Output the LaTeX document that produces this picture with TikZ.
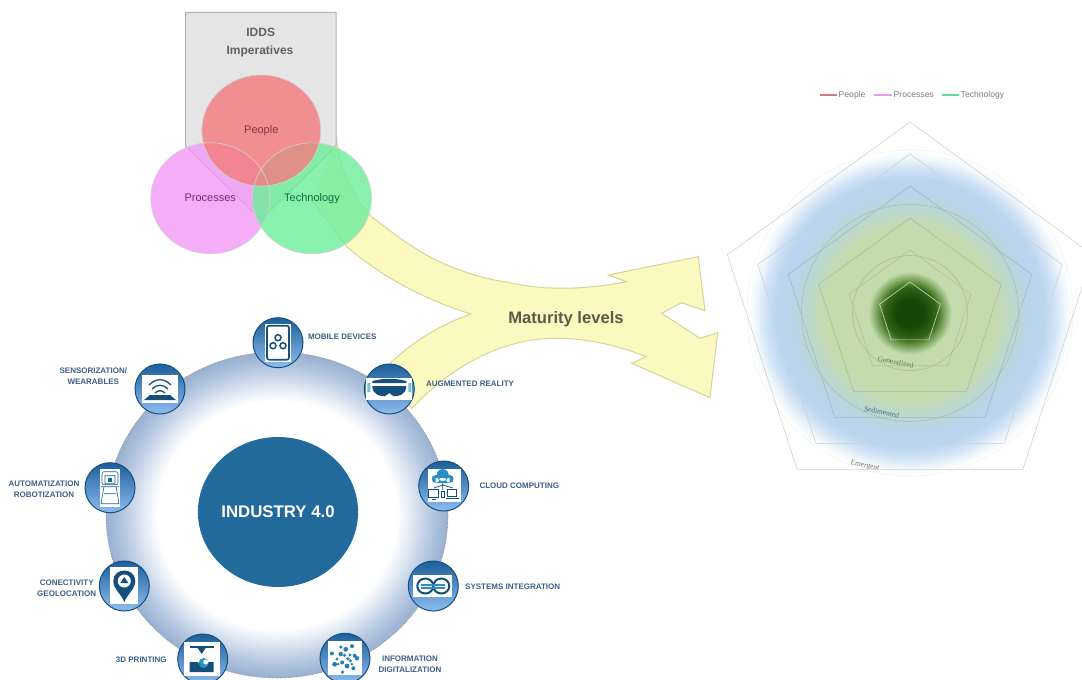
\documentclass[tikz,border=0pt]{standalone}
\usepackage{fontspec}
\setmainfont{Liberation Sans}
\newfontfamily\radarfont{Liberation Serif}
\usetikzlibrary{shapes.geometric}
\definecolor{navy}{HTML}{174F7C}
\definecolor{labelblue}{HTML}{3F5F86}
\definecolor{teal}{HTML}{2A8FC4}
\definecolor{arrowfill}{HTML}{FBF8C0}
\definecolor{arrowedge}{HTML}{D4D59A}
\definecolor{core}{HTML}{22699C}
\definecolor{HTMLproc}{HTML}{F29CF5}
\definecolor{HTMLtech}{HTML}{6FEE9C}
\definecolor{HTMLpeop}{HTML}{F47C80}
\definecolor{procText}{HTML}{6E2F70}
\definecolor{techText}{HTML}{0F6B45}
\definecolor{peopText}{HTML}{7A3A40}
\definecolor{matText}{HTML}{5A5A48}
\definecolor{badgeTop}{HTML}{1C5F9A}
\definecolor{badgeMid}{HTML}{4B8BD0}
\definecolor{badgeLow}{HTML}{8EBCF0}
\definecolor{legendRed}{HTML}{D9787A}
\definecolor{legendPink}{HTML}{E2A0E4}
\definecolor{legendGreen}{HTML}{62D996}
\definecolor{genText}{HTML}{5F7A50}
\definecolor{sedText}{HTML}{4A6A85}
\definecolor{emeText}{HTML}{777777}
\definecolor{polyAa}{HTML}{D0DCC0}
\definecolor{polyAb}{HTML}{AEC49A}
\definecolor{polyAc}{HTML}{A8C0A0}
\definecolor{polyAd}{HTML}{A5B8C4}
\definecolor{polyAe}{HTML}{CBD1D3}
\definecolor{polyAf}{HTML}{D2D2CE}
\definecolor{ringA}{HTML}{AEBAC2}
\definecolor{ringB}{HTML}{AEBE9A}
\definecolor{ringC}{HTML}{F3F3F0}
\pgfdeclareradialshading{radarshade}{\pgfpoint{0bp}{0bp}}{
 rgb(0bp)=(0.09,0.28,0.02);
 rgb(2.2bp)=(0.09,0.28,0.02);
 rgb(4bp)=(0.20,0.40,0.10);
 rgb(5bp)=(0.45,0.62,0.33);
 rgb(6.3bp)=(0.77,0.86,0.68);
 rgb(13bp)=(0.77,0.86,0.68);
 rgb(16.5bp)=(0.73,0.84,0.85);
 rgb(18.5bp)=(0.73,0.83,0.93);
 rgb(20.5bp)=(0.74,0.84,0.94);
 rgb(22bp)=(0.82,0.89,0.96);
 rgb(23.5bp)=(0.94,0.97,0.99);
 rgb(24.5bp)=(1,1,1);
 rgb(50bp)=(1,1,1)}
\pgfdeclareradialshading{ringshade}{\pgfpoint{0bp}{0bp}}{
 rgb(0bp)=(1,1,1);
 rgb(17.5bp)=(1,1,1);
 rgb(19.5bp)=(0.89,0.92,0.96);
 rgb(22.5bp)=(0.71,0.78,0.88);
 rgb(25bp)=(0.60,0.69,0.82);
 rgb(50bp)=(0.60,0.69,0.82)}
\tikzset{
 vennc/.style={ellipse,inner sep=0pt,minimum width=119pt,minimum height=111pt,fill opacity=.82,text opacity=1,font=\fontsize{11}{13}\selectfont,text height=8pt,text depth=2.5pt},
 badge/.style={circle,inner sep=0pt,minimum size=50pt,draw=navy,line width=1pt,top color=badgeTop,middle color=badgeMid,bottom color=badgeLow},
 toplabel/.style={font=\bfseries\fontsize{8}{11}\selectfont,text=labelblue,align=center,inner sep=0pt},
 legendlabel/.style={font=\fontsize{8.6}{10}\selectfont,text=gray,inner sep=0pt,anchor=west,text height=6.5pt,text depth=2pt},
 radarlabel/.style={font=\radarfont\fontsize{7.5}{9}\selectfont,inner sep=0pt},
 inkline/.style={draw=navy,line width=1.3pt}
}
\newcommand{\arrowpath}{(336.5,137) .. controls (338,165) and (352,197) .. (371.7,216.7)
 .. controls (395,235) and (415,250) .. (440,262) .. controls (465,273) and (485,279) .. (506.7,282)
 .. controls (525,286) and (540,288) .. (553,288) .. controls (580,289) and (605,286) .. (626.7,281.7)
 -- (608.3,275) -- (698.3,256.7) -- (705,310.7)
 -- (681.7,302.7) -- (661.7,313.3) -- (700,338.3) -- (717.7,332.7) -- (710,397.7) -- (631.7,363.3) -- (646,356.7)
 .. controls (618,345) and (585,338.3) .. (556.7,338.3) .. controls (500,338) and (450,368) .. (411.7,408.3)
 -- (395,390) -- (390,363.3) .. controls (415,340) and (440,325) .. (470.7,314)
 .. controls (420,298) and (380,275) .. (346.7,246.7) -- (312,200)}
\newcommand{\penta}[1]{(-90:#1) -- (-18:#1) -- (54:#1) -- (126:#1) -- (198:#1) -- cycle}
\begin{document}
\begin{tikzpicture}[x=1pt,y=-1pt]
\useasboundingbox (0,0) rectangle (1082,680);
\fill[white] (0,0) rectangle (1082,680);
% legend
\coordinate (k1a) at (820,95); \coordinate (k1b) at (837,95);
\coordinate (k2a) at (874,95); \coordinate (k2b) at (892,95);
\coordinate (k3a) at (942,95); \coordinate (k3b) at (959,95);
\draw[draw=legendRed,line width=1.2pt] (k1a) -- (k1b);
\draw[draw=legendPink,line width=1.2pt] (k2a) -- (k2b);
\draw[draw=legendGreen,line width=1.2pt] (k3a) -- (k3b);
\node[legendlabel] (t1) at (838.5,95) {People};
\node[legendlabel] (t2) at (893.5,95) {Processes};
\node[legendlabel] (t3) at (960.5,95) {Technology};
% yellow arrow
\fill[arrowfill] \arrowpath -- cycle;
\draw[arrowedge,line width=1pt] \arrowpath;
% imperatives box
\draw[draw=black!30,line width=1pt,fill=black!11,fill opacity=.9] (185.7,12.3) -- (336,12.3) -- (336,146) -- (261,220) -- (185.7,146) -- cycle;
\node[font=\bfseries\fontsize{12}{14}\selectfont,text=black!62,inner sep=0pt] (idds) at (260.7,32.7) {IDDS};
\node[font=\bfseries\fontsize{12}{14}\selectfont,text=black!62,inner sep=0pt] (imper) at (260,51.7) {Imperatives};
% venn
\node[vennc,fill=HTMLproc,text=procText] (proc) at (210.3,198.3) {Processes};
\node[vennc,fill=HTMLtech,text=techText] (tech) at (312,198.3) {Technology};
\node[vennc,fill=HTMLpeop,text=peopText] (peop) at (261.3,130.5) {People};
\draw[black!18,line width=.6pt] (proc.center) ellipse (59.5 and 55.5);
\draw[black!18,line width=.6pt] (tech.center) ellipse (59.5 and 55.5);
\draw[black!18,line width=.6pt] (peop.center) ellipse (59.5 and 55.5);
\node[font=\bfseries\fontsize{16.6}{19}\selectfont,text=matText,inner sep=0pt] (mat) at (566,319) {Maturity levels};
% radar
\coordinate (rc) at (910,313);
\coordinate (pc) at (910,314);
\shade[shading=radarshade] (rc) circle[radius=165];
\begin{scope}[shift={(rc)}]
 \draw[draw=ringC,line width=.6pt] (0,0) circle[radius=163];
 \draw[draw=ringA,line width=.6pt] (0,0) circle[radius=108.5];
 \draw[draw=ringB,line width=.6pt] (0,0) circle[radius=57.5];
\end{scope}
\begin{scope}[shift={(pc)}]
 \draw[draw=polyAa,line width=.6pt] \penta{32};
 \draw[draw=polyAb,line width=.6pt] \penta{64};
 \draw[draw=polyAc,line width=.6pt] \penta{96};
 \draw[draw=polyAd,line width=.6pt] \penta{128};
 \draw[draw=polyAe,line width=.6pt] \penta{160};
 \draw[draw=polyAf,line width=.6pt] \penta{192};
\end{scope}
\node[radarlabel,text=genText,rotate=-10] (lgen) at (895.7,362) {Generalized};
\node[radarlabel,text=sedText,rotate=-11] (lsed) at (881.7,412) {Sedimented};
\node[radarlabel,text=emeText,rotate=-11] (leme) at (865,466) {Emergent};
% ring
\node[ellipse,inner sep=0pt,minimum width=342pt,minimum height=326pt,shading=ringshade,draw=black!45,densely dotted,line width=.6pt] (ring) at (277,515) {};
\node[ellipse,inner sep=0pt,minimum width=160pt,minimum height=150pt,fill=core,text=white,font=\bfseries\fontsize{16.8}{19}\selectfont] (coren) at (278,512) {INDUSTRY 4.0};
% badges
\node[badge] (bmob) at (278,342.7) {};
\node[badge] (bsen) at (160,389) {};
\node[badge] (baut) at (110,487.7) {};
\node[badge] (bcon) at (124.3,586) {};
\node[badge] (bpri) at (202.7,659) {};
\node[badge] (binf) at (345,658.3) {};
\node[badge] (bsys) at (433.3,586) {};
\node[badge] (bclo) at (443.7,486) {};
\node[badge] (baug) at (389.3,389) {};
% mobile icon
\begin{scope}[shift={(bmob)}]
 \fill[white] (-13,-19) rectangle (13,19);
 \draw[draw=navy,line width=1.6pt,rounded corners=2pt] (-11,-17) rectangle (11,17);
 \foreach \p in {(0,-5),(-5,3),(5,3)} \draw[draw=navy,line width=1.5pt] \p circle[radius=3];
\end{scope}
% sensor icon
\begin{scope}[shift={(bsen)}]
 \fill[white] (-18,-14) rectangle (18,14);
 \draw[inkline] (-11,-4) .. controls (-4,-11) and (4,-11) .. (11,-4);
 \draw[inkline] (-8,0) .. controls (-3,-5) and (3,-5) .. (8,0);
 \draw[inkline] (-5,4) .. controls (-2,1) and (2,1) .. (5,4);
 \fill[navy] (-10,6) -- (10,6) -- (16,11) -- (-16,11) -- cycle;
\end{scope}
% robot icon
\begin{scope}[shift={(baut)}]
 \fill[white] (-10,-19) rectangle (10,19);
 \draw[draw=teal!70!black,line width=.6pt,rounded corners=2pt] (-8,-16) rectangle (8,-3);
 \draw[draw=teal!70!black,line width=.6pt] (-5,-12) rectangle (5,-4) (-9,-1) -- (9,-1) (-6,-1) -- (-9,16) -- (9,16) -- (6,-1) (-6,6) -- (6,6);
 \fill[teal!70!black] (-2,-10) rectangle (2,-6);
\end{scope}
% pin icon
\begin{scope}[shift={(bcon)}]
 \fill[white] (-14,-19) rectangle (14,18);
 \fill[navy] (0,16) .. controls (-3,8) and (-11,3) .. (-11,-5) .. controls (-11,-19) and (11,-19) .. (11,-5) .. controls (11,3) and (3,8) .. (0,16) -- cycle;
 \fill[white] (0,-5) circle[radius=6.5];
 \fill[navy] (0,-9) -- (4,-3) -- (-4,-3) -- cycle;
\end{scope}
% printer icon
\begin{scope}[shift={(bpri)}]
 \fill[white] (-19,-17) rectangle (17,17);
 \fill[navy] (-13,-13) rectangle (11,-11);
 \fill[navy] (-5,-11) -- (3,-11) -- (-1,-5) -- cycle;
 \fill[navy] (-13,3) -- (-5,3) -- (-2,6) -- (4,6) -- (6,3) -- (11,3) -- (11,13) -- (-13,13) -- cycle;
 \fill[teal] (1,4) circle[radius=5];
 \fill[white] (3,3) circle[radius=2.5];
\end{scope}
% information icon
\begin{scope}[shift={(binf)}]
 \fill[white] (-17,-17) rectangle (17,17);
 \foreach \a/\r/\s in {0/12/2.2,25/6/1.6,50/13/2,75/8/2.4,100/14/1.8,125/5/2,150/12/2.4,175/8/1.6,200/14/2,225/6/2.2,250/12/1.8,275/9/2.4,300/14/2,325/6/1.6,345/10/2,10/3/1.8,40/9/1.4,140/9/1.4,260/3/1.8}
  \fill[teal!75!navy] (\a:\r) circle[radius=\s];
\end{scope}
% systems icon
\begin{scope}[shift={(bsys)}]
 \fill[white] (-20,-11) rectangle (19,11);
 \draw[draw=navy,line width=2pt] (-8,0) ellipse (8 and 7.5);
 \draw[draw=navy,line width=2pt] (8,0) ellipse (8 and 7.5);
 \draw[draw=teal,line width=1.2pt] (-12,-1) -- (12,-1) (-12,2) -- (12,2);
\end{scope}
% cloud icon
\begin{scope}[shift={(bclo)}]
 \fill[white] (-16,-17) rectangle (17,16);
 \fill[teal] (-1,-11) circle[radius=6] (-8,-7) circle[radius=4] (6,-7) circle[radius=4] (-8,-8) rectangle (6,-3);
 \draw[draw=navy,line width=.7pt] (-1,-3) -- (-1,4) (-1,-1) -- (-10,2) (-1,-1) -- (9,2);
 \draw[draw=navy,line width=.9pt] (-15,3) rectangle (-5,11) (-12,13) -- (-8,13) (4,3) rectangle (13,10) (2,12) -- (15,12);
 \draw[draw=navy,line width=.7pt] (-2.5,5) rectangle (.5,11);
\end{scope}
% visor icon
\begin{scope}[shift={(baug)}]
 \fill[white] (-23,-11) rectangle (23,11);
 \fill[navy] (-17,-8) .. controls (-5,-11) and (5,-11) .. (17,-8) -- (17,-6) -- (-17,-6) -- cycle;
 \fill[navy] (-17,-3) -- (17,-3) .. controls (17,6) and (8,8) .. (4,7) -- (0,4) -- (-4,7) .. controls (-8,8) and (-17,6) .. (-17,-3) -- cycle;
 \fill[teal!60] (-22,-6) rectangle (-19,3) (19,-6) rectangle (22,3);
\end{scope}
% badge labels
\node[toplabel] (lmob) at (342.3,336.7) {MOBILE DEVICES};
\node[toplabel] (lsen) at (93.3,376) {SENSORIZATION/\\WEARABLES};
\node[toplabel] (laut) at (44,489) {AUTOMATIZATION\\ROBOTIZATION};
\node[toplabel] (lcon) at (66.7,588.3) {CONECTIVITY\\GEOLOCATION};
\node[toplabel] (lpri) at (141.3,660) {3D PRINTING};
\node[toplabel] (linf) at (410,664) {INFORMATION\\DIGITALIZATION};
\node[toplabel] (lsys) at (512.7,586.7) {SYSTEMS INTEGRATION};
\node[toplabel] (lclo) at (519.3,485.3) {CLOUD COMPUTING};
\node[toplabel] (laug) at (470,384) {AUGMENTED REALITY};
\end{tikzpicture}
\end{document}
